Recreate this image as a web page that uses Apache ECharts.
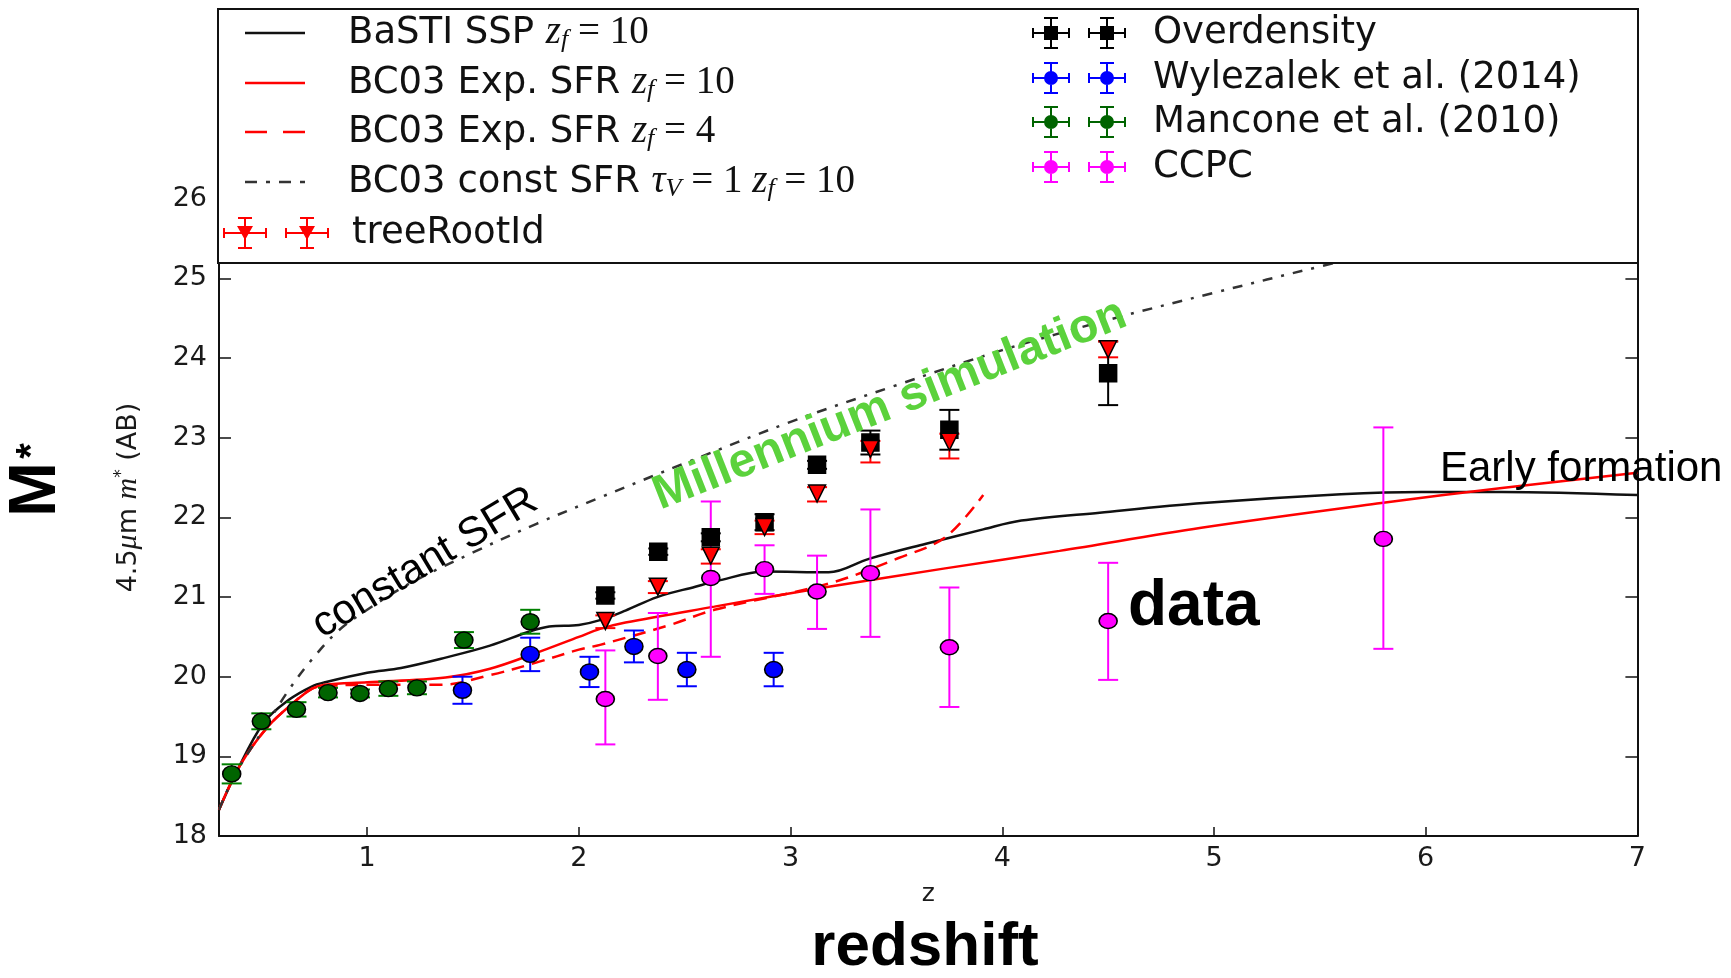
<!DOCTYPE html>
<html><head><meta charset="utf-8">
<script src="https://cdn.jsdelivr.net/npm/echarts@6/dist/echarts.min.js"></script>
<style>html,body{margin:0;padding:0;background:#fff}#c{width:1731px;height:978px}</style>
</head><body><div id="c"></div>
<script>
// ---------------- data ----------------
const xTicks = [1, 2, 3, 4, 5, 6, 7];
const yTicks = [18, 19, 20, 21, 22, 23, 24, 25, 26];

// model tracks (redshift, 4.5um m*)
const bastiZ = [0.30, 0.38, 0.51, 0.63, 0.74, 0.80, 1.00, 1.16, 1.37, 1.58, 1.77, 1.86, 2.00, 2.10, 2.22, 2.37, 2.55, 2.65, 2.88, 3.18, 3.37, 3.64, 3.91, 4.09, 4.46, 4.95, 5.60, 5.98, 6.36, 7.00];
const bastiM = [18.33, 18.79, 19.42, 19.71, 19.88, 19.93, 20.05, 20.11, 20.24, 20.39, 20.57, 20.63, 20.65, 20.71, 20.83, 21.00, 21.13, 21.20, 21.32, 21.31, 21.48, 21.67, 21.85, 21.96, 22.06, 22.18, 22.29, 22.32, 22.32, 22.28];

const expZ = [0.30, 0.40, 0.53, 0.655, 0.74, 0.80, 1.00, 1.37, 1.58, 1.79, 2.00, 2.10, 2.22, 2.64, 3.18, 3.73, 4.27, 4.94, 5.79, 6.36, 7.00];
const expM = [18.33, 18.89, 19.37, 19.68, 19.85, 19.90, 19.93, 19.99, 20.10, 20.29, 20.50, 20.60, 20.68, 20.88, 21.13, 21.36, 21.58, 21.87, 22.18, 22.37, 22.56];

const exp4Z = [0.30, 0.40, 0.53, 0.655, 0.74, 0.80, 1.00, 1.35, 1.58, 1.79, 2.00, 2.10, 2.43, 2.64, 3.18, 3.51, 3.73, 3.91];
const exp4M = [18.33, 18.89, 19.37, 19.68, 19.85, 19.88, 19.90, 19.90, 20.02, 20.17, 20.34, 20.40, 20.65, 20.84, 21.17, 21.49, 21.75, 22.28];

const constZ = [0.30, 0.38, 0.53, 0.634, 0.74, 0.865, 1.00, 1.20, 1.50, 1.80, 2.10, 2.50, 3.00, 3.50, 4.00, 4.50, 5.00, 5.50, 6.20, 7.00];
const constM = [18.33, 18.79, 19.42, 19.85, 20.22, 20.58, 20.84, 21.17, 21.56, 21.92, 22.25, 22.68, 23.20, 23.66, 24.10, 24.48, 24.82, 25.15, 25.60, 26.10];

// observed points: [z, m*, error below, error above]
const overdensity = [[2.125, 21.02, 0.04, 0.04], [2.375, 21.57, 0.04, 0.04], [2.623, 21.75, 0.05, 0.05], [2.877, 21.94, 0.10, 0.10], [3.125, 22.66, 0.05, 0.05], [3.377, 22.94, 0.15, 0.15], [3.75, 23.10, 0.25, 0.25], [4.50, 23.81, 0.40, 0.40]];
const treeRootId = [[2.125, 20.70, 0.09, 0.07], [2.373, 21.13, 0.08, 0.07], [2.623, 21.52, 0.10, 0.08], [2.877, 21.88, 0.09, 0.08], [3.125, 22.30, 0.10, 0.08], [3.377, 22.86, 0.17, 0.10], [3.75, 22.95, 0.21, 0.10], [4.50, 24.11, 0.10, 0.10]];
const wylezalek = [[1.45, 19.83, 0.17, 0.17], [1.77, 20.28, 0.21, 0.21], [2.05, 20.06, 0.19, 0.19], [2.26, 20.38, 0.20, 0.20], [2.51, 20.09, 0.21, 0.21], [2.92, 20.09, 0.21, 0.21]];
const mancone = [[0.36, 18.78, 0.12, 0.12], [0.50, 19.44, 0.10, 0.10], [0.666, 19.59, 0.09, 0.09], [0.815, 19.80, 0.06, 0.06], [0.966, 19.79, 0.05, 0.05], [1.10, 19.85, 0.09, 0.09], [1.235, 19.86, 0.08, 0.08], [1.457, 20.46, 0.10, 0.10], [1.77, 20.69, 0.15, 0.15]];
const ccpc = [[2.125, 19.72, 0.57, 0.61], [2.373, 20.26, 0.55, 0.54], [2.623, 21.24, 0.99, 0.96], [2.877, 21.35, 0.31, 0.30], [3.125, 21.07, 0.47, 0.45], [3.377, 21.30, 0.80, 0.80], [3.75, 20.37, 0.75, 0.75], [4.50, 20.70, 0.74, 0.73], [5.80, 21.73, 1.38, 1.40]];

// ---------------- helpers ----------------
const pairs = (xs, ys) => xs.map((x, i) => [x, ys[i]]);
const DV = 'DejaVu Sans';

function rectP(x, y, w, h) { return `M${x},${y}h${w}v${h}h${-w}z`; }
function ebIcon(mark, w) {
  let p = '';
  const gap = 18, h = 32, cx = w / 2;
  [0, w + gap].forEach(ox => {
    p += rectP(ox, 15, w, 2) + rectP(ox, 11, 2, 10) + rectP(ox + w - 2, 11, 2, 10);
    p += rectP(ox + cx - 1, 0, 2, h) + rectP(ox + cx - 7, 0, 14, 2) + rectP(ox + cx - 7, h - 2, 14, 2);
    if (mark === 'square') p += rectP(ox + cx - 7, 9, 14, 14);
    else if (mark === 'circle') p += `M${ox + cx - 7},16a7,7 0 1,1 14,0a7,7 0 1,1 -14,0z`;
    else p += `M${ox + cx - 8},9L${ox + cx + 8},9L${ox + cx},23z`;
  });
  return 'path://' + p;
}
const lineIconSolid = 'path://' + rectP(0, 0, 60, 2.4);
const lineIconDash = 'path://' + rectP(0, 0, 22, 2.4) + rectP(38, 0, 22, 2.4);
const lineIconDashDot = 'path://' + rectP(0, 0, 12, 2.4) + rectP(21, 0, 4, 2.4) + rectP(34, 0, 12, 2.4) + rectP(55, 0, 5, 2.4);

function errRender(params, api) {
  const x = api.value(0), y = api.value(1), lo = api.value(2), hi = api.value(3);
  const pT = api.coord([x, y + hi]);
  const pB = api.coord([x, y - lo]);
  const cw = 10;
  const st = { stroke: api.visual('color'), lineWidth: 2 };
  return {
    type: 'group', children: [
      { type: 'line', shape: { x1: pT[0], y1: pT[1], x2: pB[0], y2: pB[1] }, style: st },
      { type: 'line', shape: { x1: pT[0] - cw, y1: pT[1], x2: pT[0] + cw, y2: pT[1] }, style: st },
      { type: 'line', shape: { x1: pB[0] - cw, y1: pB[1], x2: pB[0] + cw, y2: pB[1] }, style: st }
    ]
  };
}

const richL = {
  t: { fontFamily: DV, fontSize: 37, color: '#111', lineHeight: 40 },
  it: { fontFamily: 'Liberation Serif', fontStyle: 'italic', fontSize: 39, color: '#111', lineHeight: 40 },
  rm: { fontFamily: 'Liberation Serif', fontSize: 39, color: '#111', lineHeight: 40 },
  sub: { fontFamily: 'Liberation Serif', fontStyle: 'italic', fontSize: 26, color: '#111', lineHeight: 26, padding: [14, 0, 0, 0] },
  g1: { width: 38, lineHeight: 40 }, g2: { width: 18, lineHeight: 40 }, g3: { width: 22, lineHeight: 40 }
};
const legendLabel = {
  'BaSTI SSP': '{g1| }{t|BaSTI SSP }{it|z}{sub|f}{rm| = 10}',
  'BC03 Exp. SFR zf=10': '{g1| }{t|BC03 Exp. SFR }{it|z}{sub|f}{rm| = 10}',
  'BC03 Exp. SFR zf=4': '{g1| }{t|BC03 Exp. SFR }{it|z}{sub|f}{rm| = 4}',
  'BC03 const SFR': '{g1| }{t|BC03 const SFR }{it|τ}{sub|V}{rm| = 1 }{it|z}{sub|f}{rm| = 10}',
  'treeRootId': '{g2| }{t|treeRootId}',
  'Overdensity': '{g3| }{t|Overdensity}',
  'Wylezalek et al. (2014)': '{g3| }{t|Wylezalek et al. (2014)}',
  'Mancone et al. (2010)': '{g3| }{t|Mancone et al. (2010)}',
  'CCPC': '{g3| }{t|CCPC}'
};
function lg(name, left, top, icon, w) {
  return {
    data: [{ name: name, icon: icon }], left: left, top: top, padding: 0, itemGap: 0,
    itemWidth: w, itemHeight: 40, selectedMode: false, z: 10, symbolKeepAspect: true,
    itemStyle: { borderWidth: 0 },
    formatter: n => legendLabel[n],
    textStyle: { rich: richL, lineHeight: 40 }
  };
}

const lineS = (name, xs, ys, color, type) => ({
  name: name, type: 'line', data: pairs(xs, ys), symbol: 'none', showSymbol: false,
  smooth: 0.35, z: 2, color: color,
  lineStyle: { color: color, width: 2.5, type: type }
});
const markS = (name, data, color, symbol, size, rot) => ({
  name: name, type: 'scatter', data: data.map(d => [d[0], d[1]]), symbol: symbol, symbolSize: size,
  symbolRotate: rot || 0, z: 4, color: color,
  itemStyle: { color: color, borderColor: '#000', borderWidth: 1.5, opacity: 1 }
});
const errS = (name, data, color) => ({
  name: name, type: 'custom', data: data, renderItem: errRender, z: 3, color: color,
  encode: { x: 0, y: 1 }
});

const option = {
  animation: false,
  backgroundColor: '#fff',
  grid: { left: 219, right: 93.6, top: 159, bottom: 142, containLabel: false },
  xAxis: [{
    type: 'value', min: 0.3, max: 7, name: 'z', nameLocation: 'middle', nameGap: 46,
    nameTextStyle: { fontFamily: DV, fontSize: 25, color: '#1a1a1a' },
    axisLine: { lineStyle: { color: '#111', width: 2 } },
    axisTick: { inside: true, length: 9, customValues: xTicks, lineStyle: { color: '#111', width: 1.5 } },
    axisLabel: { customValues: xTicks, fontFamily: DV, fontSize: 27, color: '#1a1a1a', margin: 9 },
    splitLine: { show: false }
  }],
  yAxis: [{
    type: 'value', min: 18, max: 26.5, position: 'left',
    name: '4.5{it|μ}m {it|m}{sup|*} (AB)', nameLocation: 'middle', nameGap: 75, nameRotate: 90,
    nameTextStyle: {
      fontFamily: DV, fontSize: 27, color: '#1a1a1a',
      rich: {
        it: { fontFamily: 'Liberation Serif', fontStyle: 'italic', fontSize: 30, color: '#1a1a1a' },
        sup: { fontFamily: DV, fontSize: 17, color: '#1a1a1a', padding: [0, 0, 14, 0] }
      }
    },
    axisLine: { show: true, lineStyle: { color: '#111', width: 2 } },
    axisTick: { show: true, inside: true, length: 12, customValues: yTicks, lineStyle: { color: '#111', width: 1.5 } },
    axisLabel: { customValues: yTicks, fontFamily: DV, fontSize: 27, color: '#1a1a1a', margin: 12 },
    splitLine: { show: false }
  }, {
    type: 'value', min: 18, max: 26.5, position: 'right',
    axisLine: { show: true, lineStyle: { color: '#111', width: 2 } },
    axisTick: { show: true, inside: true, length: 12, customValues: yTicks, lineStyle: { color: '#111', width: 1.5 } },
    axisLabel: { show: false }, splitLine: { show: false }
  }],
  legend: [
    lg('BaSTI SSP', 245, 13, lineIconSolid, 60),
    lg('BC03 Exp. SFR zf=10', 245, 63, lineIconSolid, 60),
    lg('BC03 Exp. SFR zf=4', 245, 112, lineIconDash, 60),
    lg('BC03 const SFR', 245, 162, lineIconDashDot, 60),
    lg('treeRootId', 223, 213, ebIcon('triangle', 44), 106),
    lg('Overdensity', 1032, 13, ebIcon('square', 38), 94),
    lg('Wylezalek et al. (2014)', 1032, 58, ebIcon('circle', 38), 94),
    lg('Mancone et al. (2010)', 1032, 102, ebIcon('circle', 38), 94),
    lg('CCPC', 1032, 147, ebIcon('circle', 38), 94)
  ],
  series: [
    lineS('BaSTI SSP', bastiZ, bastiM, '#111111', 'solid'),
    lineS('BC03 Exp. SFR zf=10', expZ, expM, '#ff0000', 'solid'),
    lineS('BC03 Exp. SFR zf=4', exp4Z, exp4M, '#ff0000', [13, 8]),
    lineS('BC03 const SFR', constZ, constM, '#333333', [10, 9, 3, 9]),
    markS('Overdensity', overdensity, '#000000', 'rect', 17),
    errS('Overdensity', overdensity, '#000000'),
    markS('Wylezalek et al. (2014)', wylezalek, '#0000ff', 'circle', [18, 16]),
    errS('Wylezalek et al. (2014)', wylezalek, '#0000ff'),
    markS('Mancone et al. (2010)', mancone, '#006400', 'circle', [18, 16]),
    errS('Mancone et al. (2010)', mancone, '#008000'),
    markS('CCPC', ccpc, '#ff00ff', 'circle', [18, 15]),
    errS('CCPC', ccpc, '#ff00ff'),
    markS('treeRootId', treeRootId, '#ff0000', 'triangle', 17, 180),
    errS('treeRootId', treeRootId, '#ff0000')
  ],
  graphic: [
    { type: 'rect', z: 5, shape: { x: 218, y: 9, width: 1420, height: 254 }, style: { fill: '#fff', stroke: '#111', lineWidth: 2 } },
    { type: 'text', z: 20, x: 36.5, y: 489.5, rotation: Math.PI / 2,
      style: { text: 'M', fontFamily: 'Liberation Sans', fontWeight: 'bold', fontSize: 66, fill: '#000', align: 'center', verticalAlign: 'middle' } },
    { type: 'text', z: 20, x: 33, y: 451, rotation: Math.PI / 2,
      style: { text: '*', fontFamily: 'Liberation Sans', fontWeight: 'bold', fontSize: 40, fill: '#000', align: 'center', verticalAlign: 'middle' } },
    { type: 'text', z: 20, x: 425, y: 563, rotation: 31 * Math.PI / 180,
      style: { text: 'constant SFR', fontFamily: 'Liberation Sans', fontSize: 42, fill: '#000', align: 'center', verticalAlign: 'middle' } },
    { type: 'text', z: 20, x: 890, y: 405, rotation: 21.5 * Math.PI / 180,
      style: { text: 'Millennium simulation', fontFamily: 'Liberation Sans', fontWeight: 'bold', fontSize: 48, fill: '#5bd23c', align: 'center', verticalAlign: 'middle' } },
    { type: 'text', z: 20, x: 1440, y: 469,
      style: { text: 'Early formation', fontFamily: 'Liberation Sans', fontSize: 42, fill: '#000', align: 'left', verticalAlign: 'middle' } },
    { type: 'text', z: 20, x: 1128, y: 607,
      style: { text: 'data', fontFamily: 'Liberation Sans', fontWeight: 'bold', fontSize: 64, fill: '#000', align: 'left', verticalAlign: 'middle' } },
    { type: 'text', z: 20, x: 925, y: 948,
      style: { text: 'redshift', fontFamily: 'Liberation Sans', fontWeight: 'bold', fontSize: 62, fill: '#000', align: 'center', verticalAlign: 'middle' } }
  ]
};

const chart = echarts.init(document.getElementById('c'), null, { renderer: 'canvas', width: 1731, height: 978 });
chart.setOption(option);
</script>
</body></html>
